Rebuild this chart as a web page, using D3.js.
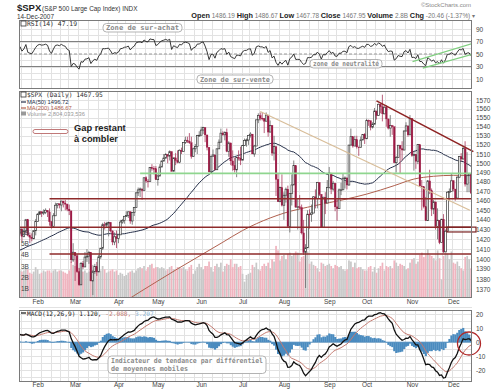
<!DOCTYPE html>
<html><head><meta charset="utf-8">
<script src="https://cdn.jsdelivr.net/npm/d3@7"></script>
<style>
html,body{margin:0;padding:0;background:#fff;}
svg{display:block;font-family:"Liberation Sans",Arial,sans-serif;}
.ax text{fill:#444;font-size:6.5px;font-family:"Liberation Sans",Arial,sans-serif;}
.ax path,.ax line{display:none;}
.mono{font-family:"DejaVu Sans Mono",monospace;}
</style></head><body>
<svg id="c" width="499" height="392"></svg>
<script>
// ---------------- DATA ----------------
const monthNames = ["Jan","Feb","Mar","Apr","May","Jun","Jul","Aug","Sep","Oct","Nov","Dec"];
// [monthIndex, trading days] for 2007
const tradingDays = [
 [0,[19,22,23,24,25,26,29,30,31]],
 [1,[1,2,5,6,7,8,9,12,13,14,15,16,20,21,22,23,26,27,28]],
 [2,[1,2,5,6,7,8,9,12,13,14,15,16,19,20,21,22,23,26,27,28,29,30]],
 [3,[2,3,4,5,9,10,11,12,13,16,17,18,19,20,23,24,25,26,27,30]],
 [4,[1,2,3,4,7,8,9,10,11,14,15,16,17,18,21,22,23,24,25,29,30,31]],
 [5,[1,4,5,6,7,8,11,12,13,14,15,18,19,20,21,22,25,26,27,28,29]],
 [6,[2,3,5,6,9,10,11,12,13,16,17,18,19,20,23,24,25,26,27,30,31]],
 [7,[1,2,3,6,7,8,9,10,13,14,15,16,17,20,21,22,23,24,27,28,29,30,31]],
 [8,[4,5,6,7,10,11,12,13,14,17,18,19,20,21,24,25,26,27,28]],
 [9,[1,2,3,4,5,8,9,10,11,12,15,16,17,18,19,22,23,24,25,26,29,30,31]],
 [10,[1,2,5,6,7,8,9,12,13,14,15,16,19,20,21,23,26,27,28,29,30]],
 [11,[3,4,5,6,7,10,11,12,13,14]]
];
// closes before the visible range (Nov 3 2006 - Jan 18 2007), used for MA(50), RSI and MACD warm-up
const priorCloses = [
 1364.30,1379.78,1382.84,1385.72,1378.33,1380.90,1384.42,1393.22,1396.57,1399.76,1401.20,1400.50,1402.81,1406.09,1400.95,1381.96,1386.72,1399.48,1400.63,
 1396.71,1409.12,1414.76,1412.90,1407.29,1409.84,1413.04,1411.56,1413.21,1425.49,1427.09,1422.48,1425.55,1423.53,1418.30,1410.76,1416.90,1426.84,1424.73,1418.30,
 1416.60,1418.34,1409.71,1412.84,1412.11,1414.85,1423.82,1430.73,1431.90,1430.62,1426.37
];
const firstOpen = 1426.37;
const closes = [
 1430.50,1422.95,1427.99,1440.13,1423.90,1422.18,1420.62,1428.82,1438.24,
 1445.94,1448.39,1446.99,1448.00,1450.02,1448.31,1438.06,1433.37,1444.26,1455.30,1456.81,1455.54,1459.68,1457.63,1456.38,1451.19,1449.37,1399.04,1406.82,
 1403.17,1387.17,1374.12,1395.41,1391.97,1401.89,1402.84,1406.60,1377.95,1387.17,1392.28,1386.95,1402.06,1410.94,1435.04,1434.54,1436.11,1437.50,1428.61,1417.23,1422.53,1420.86,
 1424.55,1437.77,1439.37,1443.76,1444.61,1448.39,1438.87,1447.80,1452.85,1468.33,1471.48,1472.50,1470.73,1484.35,1480.93,1480.41,1495.42,1494.25,1494.07,1482.37,
 1486.30,1495.92,1502.39,1505.62,1509.48,1507.72,1512.58,1491.47,1505.85,1503.15,1501.19,1514.14,1512.75,1522.75,1525.10,1524.12,1522.28,1507.51,1515.73,1518.11,1530.23,1530.62,
 1536.34,1539.18,1530.95,1517.38,1490.72,1507.67,1509.12,1493.00,1515.67,1522.97,1532.91,1531.05,1533.70,1512.84,1522.19,1502.56,1497.74,1492.89,1506.34,1505.71,1503.35,
 1519.43,1524.87,1525.40,1530.44,1531.85,1510.12,1518.76,1547.70,1552.50,1549.52,1549.37,1546.17,1553.08,1534.10,1541.57,1511.04,1518.09,1482.66,1458.95,1473.91,1455.27,
 1465.81,1472.20,1433.06,1467.67,1476.71,1497.49,1453.09,1453.64,1452.92,1426.54,1406.70,1411.27,1445.94,1445.55,1447.12,1464.07,1462.50,1479.37,1466.79,1432.36,1463.76,1457.64,1473.99,
 1489.42,1472.29,1478.55,1453.55,1451.70,1471.49,1471.56,1483.95,1484.25,1476.65,1519.78,1529.03,1518.75,1525.75,1517.73,1517.21,1525.42,1531.38,1526.75,
 1547.04,1546.63,1539.59,1542.84,1557.59,1552.58,1565.15,1562.47,1554.41,1561.80,1548.71,1538.53,1541.24,1540.08,1500.63,1506.33,1519.59,1515.88,1514.40,1535.28,1540.98,1531.02,1549.38,
 1508.44,1509.65,1502.17,1520.27,1475.62,1474.77,1453.70,1439.18,1481.05,1470.58,1451.15,1458.74,1433.27,1439.70,1416.77,1440.70,1407.22,1428.23,1469.02,1469.72,1481.14,
 1472.42,1462.79,1485.01,1507.34,1504.66,1515.96,1477.65,1486.59,1488.41,1467.95
];
const highs = [
 1431,1432,1432,1441,1441,1427,1426,1429,1441,
 1447,1449,1449,1451,1452,1450,1452,1439,1447,1458,1457,1457,1460,1460,1461,1457,1456,1449,1416,
 1406,1405,1391,1397,1398,1407,1410,1408,1407,1389,1395,1397,1404,1411,1437,1438,1438,1438,1437,1429,1427,1429,
 1425,1440,1441,1444,1449,1449,1449,1448,1453,1469,1474,1474,1472,1485,1486,1483,1496,1499,1497,1497,
 1488,1499,1503,1510,1511,1510,1514,1513,1506,1511,1514,1515,1517,1523,1529,1529,1533,1529,1517,1521,1531,1535,
 1540,1540,1539,1531,1517,1508,1515,1509,1516,1526,1538,1535,1535,1538,1524,1522,1514,1506,1507,1514,1518,
 1520,1527,1527,1531,1534,1532,1520,1548,1555,1556,1556,1549,1556,1553,1547,1541,1530,1518,1489,1475,1488,
 1469,1474,1476,1468,1488,1503,1497,1462,1466,1456,1440,1415,1450,1451,1456,1465,1472,1480,1479,1467,1464,1469,1482,
 1496,1489,1481,1479,1462,1473,1479,1489,1486,1484,1520,1538,1529,1530,1530,1518,1529,1532,1533,
 1549,1548,1547,1545,1561,1558,1566,1566,1576,1563,1564,1549,1553,1542,1540,1508,1520,1520,1524,1536,1545,1541,1553,
 1549,1513,1510,1521,1520,1482,1475,1464,1482,1493,1473,1461,1459,1452,1439,1441,1446,1430,1470,1473,1489,
 1482,1472,1486,1508,1511,1518,1524,1512,1489,1487
];
const lows = [
 1424,1418,1422,1428,1423,1416,1418,1420,1424,
 1438,1445,1443,1445,1446,1443,1434,1431,1433,1444,1452,1452,1449,1453,1450,1449,1445,1396,1397,
 1378,1386,1373,1374,1390,1392,1397,1395,1378,1364,1385,1383,1387,1400,1409,1430,1432,1423,1427,1414,1414,1411,
 1416,1425,1436,1436,1443,1442,1436,1435,1444,1453,1465,1464,1461,1471,1479,1474,1480,1492,1488,1482,
 1476,1486,1496,1502,1505,1500,1503,1491,1491,1498,1500,1500,1510,1513,1521,1522,1521,1505,1507,1512,1510,1529,
 1531,1532,1523,1514,1490,1490,1507,1492,1493,1516,1523,1530,1525,1512,1507,1498,1492,1490,1485,1503,1498,
 1504,1519,1518,1520,1528,1510,1507,1519,1544,1547,1547,1533,1546,1529,1534,1508,1503,1465,1459,1459,1454,
 1440,1458,1433,1427,1455,1477,1453,1430,1451,1425,1404,1371,1411,1431,1438,1447,1452,1452,1465,1432,1432,1446,1458,
 1473,1467,1470,1449,1439,1452,1466,1472,1473,1472,1476,1520,1517,1519,1516,1508,1518,1525,1521,
 1527,1541,1536,1538,1543,1548,1552,1555,1546,1554,1540,1537,1529,1531,1500,1490,1506,1489,1503,1514,1535,1529,1531,
 1507,1492,1494,1499,1475,1450,1452,1439,1439,1467,1444,1446,1430,1420,1415,1417,1406,1408,1428,1461,1470,
 1470,1460,1463,1484,1502,1504,1475,1469,1469,1468
];
// volume, billions
const volumes = [
 2.6,2.5,2.6,2.8,2.7,2.4,2.3,2.5,2.9,
 2.7,2.3,2.4,2.6,2.5,2.6,2.6,2.4,2.6,2.7,2.5,2.6,2.6,2.5,2.4,2.3,2.6,3.4,3.1,
 3.0,2.9,2.8,2.7,2.5,2.6,2.4,2.5,3.0,3.1,2.7,2.9,2.5,2.6,3.0,2.7,2.4,2.5,2.6,2.7,2.5,2.6,
 2.2,2.4,2.3,2.1,2.2,2.4,2.5,2.6,2.4,2.6,2.8,2.9,2.8,3.0,2.6,2.9,3.1,3.2,2.8,2.9,
 2.9,2.8,2.9,2.8,2.6,2.7,2.9,3.0,2.7,2.7,2.9,2.9,2.8,2.9,2.7,2.6,2.9,3.1,2.3,2.6,2.9,3.2,
 2.9,2.7,3.0,3.0,3.4,2.9,2.5,3.0,3.2,2.9,3.3,2.5,3.0,3.2,3.1,3.6,2.9,3.2,3.2,2.9,3.0,
 2.3,1.6,2.2,2.3,2.4,3.1,2.9,3.3,2.7,2.6,3.0,3.2,3.0,3.3,2.8,3.6,3.4,4.8,4.4,3.5,3.9,
 4.0,3.6,4.1,4.2,3.9,4.1,4.3,4.2,3.4,3.8,3.9,4.6,4.3,3.2,3.4,3.1,3.0,2.8,2.5,3.3,3.2,3.0,3.1,
 3.2,3.0,2.8,3.1,3.0,2.9,3.0,2.7,2.6,2.7,3.5,3.4,2.9,3.3,2.8,2.9,2.9,2.7,2.6,
 2.6,2.9,3.0,2.5,2.9,2.4,2.8,3.0,3.3,2.6,3.0,2.9,3.0,2.8,3.5,3.3,3.0,3.2,3.1,3.0,2.7,2.8,3.3,
 3.6,3.7,3.2,3.4,4.0,4.2,3.8,4.0,4.5,4.0,3.9,3.7,3.5,4.4,3.7,1.8,3.9,4.3,4.1,3.6,4.3,
 3.3,3.2,3.4,3.0,2.8,2.6,3.8,3.9,3.6,2.8
];
// MA(200): [bar index, value]
const ma200Points = [[44,1348],[50,1354],[60,1366],[70,1378],[80,1390],[92,1404],[103,1417],[113,1429],[120,1436],[134,1447],[150,1455],[164,1461],[176,1467],[190,1476],[200,1483],[210,1486],[220,1487],[229,1487]];
const macdSeed = [1373, 1366, 8]; // EMA12, EMA26, signal before first prior close
const priceTicks = [1370,1380,1390,1400,1410,1420,1430,1440,1450,1460,1470,1480,1490,1500,1510,1520,1530,1540,1550,1560,1570];
const volumeTicks = [1,2,3,4,5,6];
const rsiTicks = [10,30,50,70,90];
const rsiGrid = [10,20,30,40,50,60,70,80,90];
const macdTicks = [-20,-10,0,10,20];
const macdGrid = [-25,-20,-15,-10,-5,0,5,10,15,20,25];
// hand-drawn annotations: [bar index, price]
const horizontalLevels = [[15,1462],[-0.5,1432.5],[15,1405]];
const greenLevel = [61,1489];
const trendLines = [[[122,1557],[228.4,1450]], [[181,1569],[230.2,1512.6]]];
const gapZone = [216.8,1432.5,1427.5];
const rsiChannel = [[[199.3,37.8],[229.8,67]], [[204.5,27.3],[229.8,49.5]]];

// ---------------- CHART ----------------
const svg = d3.select("#c");
const n = closes.length;
const L = 19, R = 472;
const dates = [];
tradingDays.forEach(([m, days]) => days.forEach(d => dates.push(new Date(2007, m, d))));
const opens = closes.map((c, i) => i === 0 ? firstOpen : closes[i - 1]);

const xb = d3.scaleBand().domain(d3.range(n)).range([L, R]).paddingInner(0.12);
const xl = d3.scaleLinear().domain([-0.5, n - 0.5]).range([L, R]);
const yP = d3.scaleLog().domain([1570, 1370]).range([100, 289]);
const yV = d3.scaleLinear().domain([0, 6]).range([299.5, 232.5]);
const yR = d3.scaleLinear().domain([0, 100]).range([85.25, 22.75]);
const yM = d3.scaleLinear().domain([20, -20]).range([314, 370.3]);

const panels = { rsi: [20, 89], main: [91, 298], macd: [310, 382] };
const defs = svg.append("defs");
Object.entries(panels).forEach(([k, [t, b]]) => {
  defs.append("clipPath").attr("id", "clip-" + k).append("rect").attr("x", L).attr("y", t).attr("width", R - L).attr("height", b - t);
});

// indicators
const all = priorCloses.concat(closes);
const P = priorCloses.length;
let e12 = macdSeed[0], e26 = macdSeed[1], sig = macdSeed[2];
const macd = [], signal = [], hist = [];
all.forEach((c, j) => {
  e12 = c * 2 / 13 + e12 * 11 / 13;
  e26 = c * 2 / 27 + e26 * 25 / 27;
  const m = e12 - e26;
  sig = m * 0.2 + sig * 0.8;
  if (j >= P) { macd.push(m); signal.push(sig); hist.push(m - sig); }
});
let ag = 0, al = 0; const rsi = [];
for (let j = 1; j < all.length; j++) {
  const d = all[j] - all[j - 1], g = Math.max(d, 0), l = Math.max(-d, 0);
  if (j <= 14) { ag += g / 14; al += l / 14; } else { ag = (ag * 13 + g) / 14; al = (al * 13 + l) / 14; }
  if (j >= P) rsi.push(100 - 100 / (1 + ag / al));
}
const ma50 = closes.map((c, i) => d3.mean(all.slice(P + i - 49, P + i + 1)));

// grids
const weekStarts = d3.range(1, n).filter(i => dates[i].getDay() <= dates[i - 1].getDay() || (dates[i] - dates[i - 1]) > 3 * 864e5 && dates[i].getDay() === 1);
const monthStarts = d3.range(1, n).filter(i => dates[i].getMonth() !== dates[i - 1].getMonth());
function grid(key, ys, yScale) {
  const [t, b] = panels[key];
  const g = svg.append("g").attr("stroke", "#e2e2e2").attr("stroke-width", 1).attr("shape-rendering", "crispEdges");
  g.selectAll(".v").data(weekStarts).join("line").attr("x1", i => Math.round(xl(i - 0.5)) + 0.5).attr("x2", i => Math.round(xl(i - 0.5)) + 0.5).attr("y1", t).attr("y2", b);
  g.selectAll(".h").data(ys).join("line").attr("x1", L).attr("x2", R).attr("y1", v => Math.round(yScale(v)) + 0.5).attr("y2", v => Math.round(yScale(v)) + 0.5);
}
grid("rsi", rsiGrid, yR);
grid("main", priceTicks, yP);
grid("macd", macdGrid, yM);

// ---------- RSI panel ----------
const gR = svg.append("g").attr("clip-path", "url(#clip-rsi)");
[70, 30].forEach(v => gR.append("line").attr("x1", L).attr("x2", R).attr("y1", yR(v)).attr("y2", yR(v)).attr("stroke", "#808080").attr("stroke-width", 1));
gR.append("line").attr("x1", L).attr("x2", R).attr("y1", yR(50)).attr("y2", yR(50)).attr("stroke", "#999").attr("stroke-dasharray", "3,2");
gR.append("path").datum(rsi).attr("fill", "none").attr("stroke", "#222").attr("stroke-width", 0.9)
  .attr("d", d3.line().x((d, i) => xl(i)).y(d => yR(d)));
rsiChannel.forEach(seg => gR.append("line").attr("x1", xl(seg[0][0])).attr("y1", yR(seg[0][1])).attr("x2", xl(seg[1][0])).attr("y2", yR(seg[1][1])).attr("stroke", "#7fcf7f").attr("stroke-width", 1.2));

// ---------- Main panel ----------
const gM = svg.append("g").attr("clip-path", "url(#clip-main)");
gM.selectAll(".vol").data(volumes).join("rect")
  .attr("x", (d, i) => xb(i)).attr("width", xb.bandwidth())
  .attr("y", d => yV(d)).attr("height", d => yV(0) - yV(d))
  .attr("fill", (d, i) => closes[i] < opens[i] ? "#f0b4bf" : "#c8c8c8");
// MA lines
gM.append("path").datum(ma200Points).attr("fill", "none").attr("stroke", "#b0604e").attr("stroke-width", 1)
  .attr("d", d3.line().curve(d3.curveMonotoneX).x(d => xl(d[0])).y(d => yP(d[1])));
gM.append("path").datum(ma50).attr("fill", "none").attr("stroke", "#26304a").attr("stroke-width", 1)
  .attr("d", d3.line().x((d, i) => xl(i)).y(d => yP(d)));
// candles
const cw = xb.bandwidth();
const cg = gM.append("g");
closes.forEach((c, i) => {
  const o = opens[i], h = Math.max(highs[i], o, c), l = Math.min(lows[i], o, c);
  const down = c < o;
  const col = down ? "#9c1a44" : "#3a3a3a";
  const cx = xl(i);
  cg.append("line").attr("x1", cx).attr("x2", cx).attr("y1", yP(h)).attr("y2", yP(l)).attr("stroke", down ? "#a8385c" : "#666").attr("stroke-width", 0.8);
  const top = yP(Math.max(o, c)), bot = yP(Math.min(o, c));
  cg.append("rect").attr("x", xb(i)).attr("width", cw).attr("y", top).attr("height", Math.max(bot - top, 0.8))
    .attr("fill", down ? col : "#fff").attr("stroke", col).attr("stroke-width", down ? 0.3 : 0.7);
});
// annotations
gM.append("line").attr("x1", xl(greenLevel[0])).attr("x2", R).attr("y1", yP(greenLevel[1])).attr("y2", yP(greenLevel[1])).attr("stroke", "#8fd68f").attr("stroke-width", 1.8);
horizontalLevels.forEach(([i, p]) => gM.append("line").attr("x1", xl(i)).attr("x2", R).attr("y1", yP(p)).attr("y2", yP(p)).attr("stroke", "#8e2a2a").attr("stroke-width", 1.5));
const tlStyle = [["#d8bd98", 1.2], ["#8e2323", 1.6]];
trendLines.forEach((seg, k) => svg.append("line").attr("x1", xl(seg[0][0])).attr("y1", yP(seg[0][1])).attr("x2", xl(seg[1][0])).attr("y2", yP(seg[1][1])).attr("stroke", tlStyle[k][0]).attr("stroke-width", tlStyle[k][1]));
svg.append("rect").attr("x", xl(gapZone[0])).attr("y", yP(gapZone[1])).attr("width", R + 4 - xl(gapZone[0])).attr("height", yP(gapZone[2]) - yP(gapZone[1]))
  .attr("fill", "none").attr("stroke", "#7a2222").attr("stroke-width", 1.2);

// ---------- MACD panel ----------
const gC = svg.append("g").attr("clip-path", "url(#clip-macd)");
gC.selectAll(".h").data(hist).join("rect")
  .attr("x", (d, i) => xl(i - 0.5)).attr("width", xl(1) - xl(0) + 0.2)
  .attr("y", d => Math.min(yM(d), yM(0))).attr("height", d => Math.abs(yM(d) - yM(0)))
  .attr("fill", "#4a8bbf");
gC.append("line").attr("x1", L).attr("x2", R).attr("y1", yM(0)).attr("y2", yM(0)).attr("stroke", "#4a8bbf").attr("stroke-width", 0.8);
gC.append("path").datum(signal).attr("fill", "none").attr("stroke", "#c47a70").attr("stroke-width", 1)
  .attr("d", d3.line().x((d, i) => xl(i)).y(d => yM(d)));
gC.append("path").datum(macd).attr("fill", "none").attr("stroke", "#111").attr("stroke-width", 1.3)
  .attr("d", d3.line().x((d, i) => xl(i)).y(d => yM(d)));
svg.append("circle").attr("cx", 469).attr("cy", 343.5).attr("r", 11.5).attr("fill", "none").attr("stroke", "#b02828").attr("stroke-width", 1.3);

// panel borders
Object.values(panels).forEach(([t, b]) => svg.append("rect").attr("x", L + 0.5).attr("y", t + 0.5).attr("width", R - L - 1).attr("height", b - t - 1).attr("fill", "none").attr("stroke", "#7a7a7a").attr("shape-rendering", "crispEdges"));

// axes
svg.append("g").attr("class", "ax").attr("transform", `translate(${R + 3},0)`).call(d3.axisRight(yR).tickValues(rsiTicks).tickSize(0).tickPadding(1));
svg.append("g").attr("class", "ax").attr("transform", `translate(${R + 3},0)`).call(d3.axisRight(yP).tickValues(priceTicks).tickSize(0).tickPadding(1).tickFormat(d3.format("d")));
svg.append("g").attr("class", "ax").attr("transform", `translate(${R + 3},0)`).call(d3.axisRight(yM).tickValues(macdTicks).tickSize(0).tickPadding(1).tickFormat(d => d));
svg.append("g").attr("class", "ax").attr("transform", `translate(${L + 1},0)`).call(d3.axisRight(yV).tickValues(volumeTicks).tickSize(0).tickPadding(1).tickFormat(d => d + "B"));
[305, 388].forEach(y => {
  svg.append("g").attr("class", "ax").attr("transform", `translate(0,${y - 6})`)
    .call(d3.axisBottom(xl).tickValues(monthStarts).tickSize(0).tickPadding(0).tickFormat(i => monthNames[dates[i].getMonth()]));
});

// ---------- Texts ----------
svg.append("text").attr("x", 17).attr("y", 11).attr("font-size", 9.5).attr("font-weight", "bold").attr("fill", "#222").text("$SPX");
svg.append("text").attr("x", 42).attr("y", 11).attr("font-size", 6.4).attr("fill", "#333").text("(S&P 500 Large Cap Index) INDX");
svg.append("text").attr("x", 17).attr("y", 18.5).attr("font-size", 6.4).attr("fill", "#333").text("14-Dec-2007");
svg.append("text").attr("x", 471).attr("y", 7).attr("text-anchor", "end").attr("font-size", 6).attr("fill", "#888").text("©StockCharts.com");
const hdr = svg.append("text").attr("x", 475).attr("y", 17.5).attr("text-anchor", "end").attr("font-size", 6.8).attr("fill", "#222");
[["Open", " 1486.19 "], ["High", " 1486.67 "], ["Low", " 1467.78 "], ["Close", " 1467.95 "], ["Volume", " 2.8B "], ["Chg", " -20.46 (-1.37%) ▾"]].forEach(([a, b]) => {
  hdr.append("tspan").attr("font-weight", "bold").attr("font-size", 7.3).text(a);
  hdr.append("tspan").attr("fill", "#777").attr("font-size", 6.4).text(b);
});
// panel legends
function icon(x, y) { svg.append("rect").attr("x", x).attr("y", y - 5).attr("width", 5).attr("height", 5).attr("fill", "#fff").attr("stroke", "#333").attr("stroke-width", 0.8); }
icon(21, 26); svg.append("text").attr("class", "mono").attr("x", 27).attr("y", 26).attr("font-size", 6.4).attr("fill", "#333").text("RSI(14) 47.19");
icon(21, 97); svg.append("text").attr("class", "mono").attr("x", 27).attr("y", 97).attr("font-size", 6.3).attr("fill", "#333").text("$SPX (Daily) 1467.95");
svg.append("line").attr("x1", 21).attr("x2", 26).attr("y1", 102).attr("y2", 102).attr("stroke", "#26304a").attr("stroke-width", 1.2);
svg.append("text").attr("x", 27).attr("y", 104).attr("font-size", 5.8).attr("fill", "#26304a").text("MA(50) 1496.72");
svg.append("line").attr("x1", 21).attr("x2", 26).attr("y1", 108).attr("y2", 108).attr("stroke", "#b0604e").attr("stroke-width", 1.2);
svg.append("text").attr("x", 27).attr("y", 110).attr("font-size", 5.8).attr("fill", "#b0604e").text("MA(200) 1486.67");
svg.append("rect").attr("x", 21).attr("y", 111.5).attr("width", 5).attr("height", 4).attr("fill", "#999");
svg.append("text").attr("x", 27).attr("y", 116).attr("font-size", 5.8).attr("fill", "#999").text("Volume 2,804,033,536");
svg.append("line").attr("x1", 21).attr("x2", 26).attr("y1", 313).attr("y2", 313).attr("stroke", "#111").attr("stroke-width", 1.2);
const ml = svg.append("text").attr("class", "mono").attr("x", 27).attr("y", 315.5).attr("font-size", 6.2);
ml.append("tspan").attr("fill", "#222").text("MACD(12,26,9) 1.120,");
ml.append("tspan").attr("fill", "#c47a70").text(" -2.088,");
ml.append("tspan").attr("fill", "#8fb6d8").text(" 3.207");

// callout boxes
function callout(x, y, w, h, lines) {
  svg.append("rect").attr("x", x).attr("y", y).attr("width", w).attr("height", h).attr("rx", 3.5)
    .attr("fill", "#fff").attr("fill-opacity", 0.92).attr("stroke", "#aaa").attr("stroke-width", 0.9);
  lines.forEach((t, k) => svg.append("text").attr("class", "mono").attr("x", x + 3).attr("y", y + 6.8 + k * 7.6)
    .attr("font-size", 7).attr("font-weight", "bold").attr("fill", "#8a8a8a")
    .attr("textLength", w - 6).attr("lengthAdjust", "spacingAndGlyphs").text(t));
}
callout(103, 23.5, 79, 8.5, ["Zone de sur-achat"]);
callout(310, 59.5, 72, 8.5, ["zone de neutralité"]);
callout(197, 75, 76, 8.5, ["Zone de sur-vente"]);
callout(108, 356, 158, 17.5, ["Indicateur de tendance par différentiel"]);
svg.append("text").attr("class", "mono").attr("x", 111).attr("y", 370.5).attr("font-size", 7).attr("font-weight", "bold").attr("fill", "#8a8a8a")
  .attr("textLength", 77).attr("lengthAdjust", "spacingAndGlyphs").text("de moyennes mobiles");

// gap legend
svg.append("rect").attr("x", 33).attr("y", 129.5).attr("width", 35).attr("height", 4).attr("rx", 2).attr("fill", "#fff").attr("stroke", "#c07878").attr("stroke-width", 1);
svg.append("text").attr("x", 74).attr("y", 131).attr("font-size", 9.3).attr("font-weight", "bold").attr("fill", "#222").text("Gap restant");
svg.append("text").attr("x", 74).attr("y", 142).attr("font-size", 9.3).attr("font-weight", "bold").attr("fill", "#222").text("à combler");
</script>
</body></html>
